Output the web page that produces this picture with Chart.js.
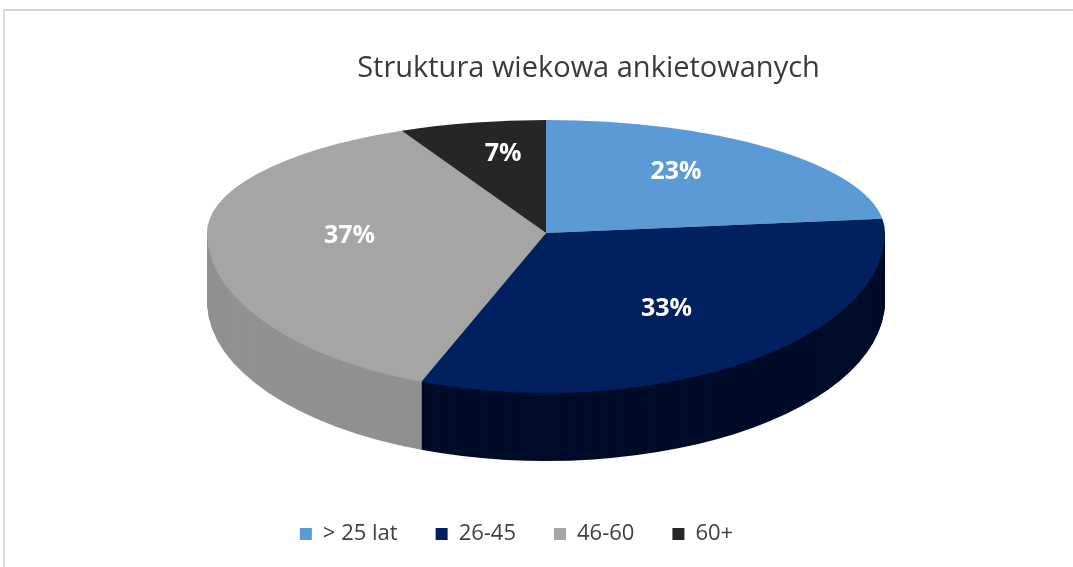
<!DOCTYPE html>
<html>
<head>
    <meta charset="utf-8"/>
    <title>Struktura wiekowa ankietowanych</title>
    <script src="https://cdn.jsdelivr.net/npm/chart.js"></script>
    <style>
        html, body { margin: 0; padding: 0; background: #fff; overflow: hidden; }
        #frame { position: absolute; left: 3px; top: 9px; width: 1100px; height: 600px;
                 border-top: 2px solid #d6d6d6; border-left: 2px solid #dcdcdc; }
        #wrap { position: absolute; left: 0; top: 0; width: 1073px; height: 567px; }
    </style>
</head>
<body>
    <div id="frame"></div>
    <div id="wrap"><canvas id="ageChart" width="1073" height="567"></canvas></div>

    <script type="text/javascript">
      // Data
      const categories = ['> 25 lat', '26-45', '46-60', '60+'];
      const shares = [23, 33, 37, 7];
      const sliceColors = ['#5b9bd5', '#002060', '#a5a5a5', '#262626'];
      const sideColors = ['#41709c', '#000c29', '#919191', '#171717'];

      // Fake 3D pie: squash the library's arcs into an ellipse and extrude the front half
      const pie3d = {
        id: 'pie3d',
        afterLayout(chart, args, opts) {
          chart.titleBlock.left += opts.titleShift;
          chart.titleBlock.right += opts.titleShift;
          chart.legend.left += opts.legendShift;
          chart.legend.right += opts.legendShift;
        },
        beforeDatasetsDraw(chart, args, opts) {
          const ctx = chart.ctx;
          const arcs = chart.getDatasetMeta(0).data;
          const cx = arcs[0].x, cy = arcs[0].y, R = arcs[0].outerRadius;

          function drawHalf(upper, dy, colors) {
            ctx.save();
            ctx.beginPath();
            if (upper) ctx.rect(0, 0, chart.width, opts.apexY + dy);
            else ctx.rect(0, opts.apexY + dy, chart.width, chart.height);
            ctx.clip();
            ctx.translate(opts.apexX, opts.apexY + dy);
            ctx.scale(opts.rx / R, (upper ? opts.ryTop : opts.ryBottom) / R);
            ctx.translate(-cx, -cy);
            arcs.forEach((arc, i) => {
              const saved = arc.options;
              if (colors) {
                arc.options = Object.create(saved, { backgroundColor: { value: colors[i] } });
              }
              arc.draw(ctx);
              arc.options = saved;
            });
            ctx.restore();
          }

          // side wall
          for (let d = opts.depth; d >= 1; d--) {
            drawHalf(false, d, sideColors);
          }
          // top face
          drawHalf(true, 0, null);
          drawHalf(false, 0, null);

          // percentage labels
          const total = shares.reduce((a, b) => a + b, 0);
          ctx.save();
          ctx.fillStyle = '#ffffff';
          ctx.font = 'bold 25px "Open Sans"';
          ctx.textAlign = 'center';
          ctx.textBaseline = 'middle';
          arcs.forEach((arc, i) => {
            const a = (arc.startAngle + arc.endAngle) / 2;
            const s = Math.sin(a);
            const x = opts.apexX + opts.labelFx * opts.rx * Math.cos(a);
            const y = opts.apexY + (s < 0 ? opts.labelFyTop * opts.ryTop : opts.labelFyBottom * opts.ryBottom) * s;
            ctx.fillText(Math.round(shares[i] / total * 100) + '%', x, y + opts.labelDy);
          });
          ctx.restore();
          return false;
        }
      };

      const ctx = document.getElementById('ageChart').getContext('2d');
      const ageChart = new Chart(ctx, {
        type: 'pie',
        data: {
          labels: categories,
          datasets: [{
            data: shares,
            backgroundColor: sliceColors,
            borderWidth: 0
          }]
        },
        plugins: [pie3d],
        options: {
          responsive: false,
          animation: false,
          layout: { padding: { top: 0, bottom: 12, left: 0, right: 0 } },
          plugins: {
            title: {
              display: true,
              text: 'Struktura wiekowa ankietowanych',
              color: '#3b3b3b',
              font: { family: 'Open Sans', size: 29, weight: 'normal' },
              padding: { top: 51, bottom: 10 }
            },
            legend: {
              position: 'bottom',
              labels: {
                boxWidth: 12,
                boxHeight: 12,
                padding: 38,
                color: '#404040',
                font: { family: 'Open Sans', size: 22 }
              }
            },
            tooltip: { enabled: false },
            pie3d: {
              apexX: 546, apexY: 233,
              rx: 339, ryTop: 113, ryBottom: 160,
              depth: 68,
              labelFx: 0.58, labelFyTop: 0.72, labelFyBottom: 0.6, labelDy: 0,
              titleShift: 52, legendShift: -20
            }
          }
        }
      });
    </script>
</body>
</html>
